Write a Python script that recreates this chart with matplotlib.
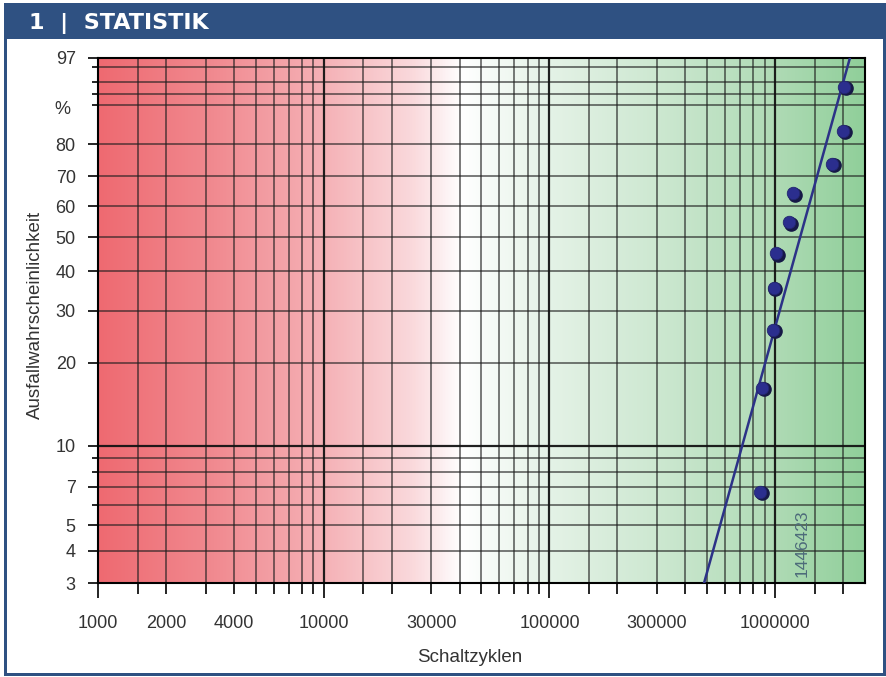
import numpy as np
import matplotlib.pyplot as plt
import matplotlib.transforms as mtransforms
from matplotlib.colors import LinearSegmentedColormap
from matplotlib.patches import Rectangle
from matplotlib.ticker import FixedLocator, FixedFormatter

plt.rcParams['font.family'] = ['Liberation Sans', 'DejaVu Sans']

# Ausfaelle: Schaltzyklen und Medianraenge (%)
cycles = [858000, 875000, 980000, 985000, 1010000, 1153000, 1201000, 1789000, 2001000, 2020000]
ranks = [6.7, 16.3, 26.0, 35.6, 45.2, 54.8, 64.4, 74.0, 83.7, 93.3]

# Weibull-Ausgleichsgerade
eta = 1446423
beta = 3.19

# Achsen
x_major = [1000, 10000, 100000, 1000000]
x_minor = [1500, 2000, 3000, 4000, 5000, 6000, 7000, 8000, 9000,
           15000, 20000, 30000, 40000, 50000, 60000, 70000, 80000, 90000,
           150000, 200000, 300000, 400000, 500000, 600000, 700000, 800000, 900000,
           1500000, 2000000]
x_minor_labels = {2000: '2000', 4000: '4000', 30000: '30000', 300000: '300000'}
y_major = [3, 4, 5, 7, 10, 20, 30, 40, 50, 60, 70, 80, 97]
y_minor = [6, 8, 9, 90, 92, 94, 96]

blue = '#2f5182'
navy = '#2c3287'
grey = '#333333'


def weibull_fwd(p):
    p = np.clip(np.asarray(p, dtype=float), 1e-6, 100 - 1e-9)
    return np.log(-np.log(1 - p / 100.0))


def weibull_inv(w):
    return 100.0 * (1 - np.exp(-np.exp(np.asarray(w, dtype=float))))


fig = plt.figure(figsize=(8.87, 6.77), dpi=100)
W, H = 887.0, 677.0

# Rahmen + Kopfzeile
fig.add_artist(Rectangle((4 / W, 1 - 39 / H), 882 / W, 36 / H, transform=fig.transFigure,
                         facecolor=blue, edgecolor='none'))
fig.add_artist(Rectangle((4 / W, 1 - 676 / H), 3 / W, 640 / H, transform=fig.transFigure,
                         facecolor=blue, edgecolor='none'))
fig.add_artist(Rectangle((883 / W, 1 - 676 / H), 3 / W, 640 / H, transform=fig.transFigure,
                         facecolor=blue, edgecolor='none'))
fig.add_artist(Rectangle((4 / W, 1 - 676 / H), 882 / W, 3 / H, transform=fig.transFigure,
                         facecolor=blue, edgecolor='none'))
fig.text(29 / W, 1 - 23 / H, '1  |  STATISTIK', color='white', fontsize=16,
         fontweight='bold', family='DejaVu Sans', ha='left', va='center')

pos = [98 / W, 1 - 583 / H, 767 / W, 525 / H]

# Hintergrund rot -> weiss -> gruen
bg = fig.add_axes(pos, zorder=0)
cmap = LinearSegmentedColormap.from_list('rg', [
    (0.0, '#ee6a71'), (0.15, '#f18a90'), (0.29, '#f5b0b5'), (0.41, '#fad9dc'),
    (0.475, '#ffffff'), (0.58, '#e6f3e8'), (0.73, '#cde8d1'), (0.88, '#b0dbb6'),
    (1.0, '#90cf9a')])
bg.imshow(np.linspace(0, 1, 512).reshape(1, -1), cmap=cmap, aspect='auto',
          extent=[0, 1, 0, 1], interpolation='bilinear')
bg.axis('off')

ax = fig.add_axes(pos, zorder=1)
ax.set_facecolor('none')
ax.set_xscale('log')
ax.set_yscale('function', functions=(weibull_fwd, weibull_inv))
ax.set_xlim(1000, 2.5e6)
ax.set_ylim(3, 97)

ax.xaxis.set_major_locator(FixedLocator(x_major))
ax.xaxis.set_major_formatter(FixedFormatter([str(v) for v in x_major]))
ax.xaxis.set_minor_locator(FixedLocator(x_minor))
ax.xaxis.set_minor_formatter(FixedFormatter([x_minor_labels.get(v, '') for v in x_minor]))
ax.yaxis.set_major_locator(FixedLocator(y_major))
ax.yaxis.set_major_formatter(FixedFormatter([str(v) for v in y_major]))
ax.yaxis.set_minor_locator(FixedLocator(y_minor))
ax.yaxis.set_minor_formatter(FixedFormatter([''] * len(y_minor)))

ax.tick_params(axis='x', which='major', length=11, width=1.2, pad=12,
               labelsize=13, labelcolor=grey)
ax.tick_params(axis='x', which='minor', length=8, width=1.2, pad=15,
               labelsize=13, labelcolor=grey)
ax.tick_params(axis='y', which='major', length=7, width=1.2, pad=9,
               labelsize=13, labelcolor=grey)
ax.tick_params(axis='y', which='minor', length=4, width=1.2)

ax.grid(True, which='both', color='#1e1e1e', lw=1.1, alpha=0.75)
for v in x_major[1:]:
    ax.axvline(v, color='#111111', lw=1.6, alpha=0.85)
ax.axhline(10, color='#111111', lw=1.6, alpha=0.85)
ax.set_axisbelow(True)
for s in ax.spines.values():
    s.set_linewidth(1.5)
    s.set_color('black')

# Ausgleichsgerade
F_end = np.array([1.0, 99.5])
x_end = eta * (-np.log(1 - F_end / 100.0)) ** (1.0 / beta)
ax.plot(x_end, F_end, color=navy, lw=1.8, zorder=3)

# Messpunkte mit Schatten
shadow = mtransforms.offset_copy(ax.transData, fig=fig, x=1.5, y=-1.5, units='dots')
ax.plot(cycles, ranks, 'o', ms=9.5, color='#161846', transform=shadow, zorder=4)
ax.plot(cycles, ranks, 'o', ms=9, mfc='#2b2e8e', mec='#23266f', mew=0.6, zorder=5)

txt_tr = mtransforms.offset_copy(ax.transData, fig=fig, x=-2, y=6, units='dots')
ax.text(eta, 3, str(eta), rotation=90, ha='right', va='bottom', fontsize=12.5,
        color='#4d6b7a', transform=txt_tr, zorder=6)

ax.text(-0.046, 89, '%', transform=mtransforms.blended_transform_factory(ax.transAxes, ax.transData),
        ha='center', va='center', fontsize=13, color=grey)

ax.set_xlabel('Schaltzyklen', fontsize=13.5, color=grey)
ax.xaxis.set_label_coords(0.485, -0.125)
ax.set_ylabel('Ausfallwahrscheinlichkeit', fontsize=13.5, color=grey)
ax.yaxis.set_label_coords(-0.07, 0.51)

plt.savefig('out.png', dpi=100)
